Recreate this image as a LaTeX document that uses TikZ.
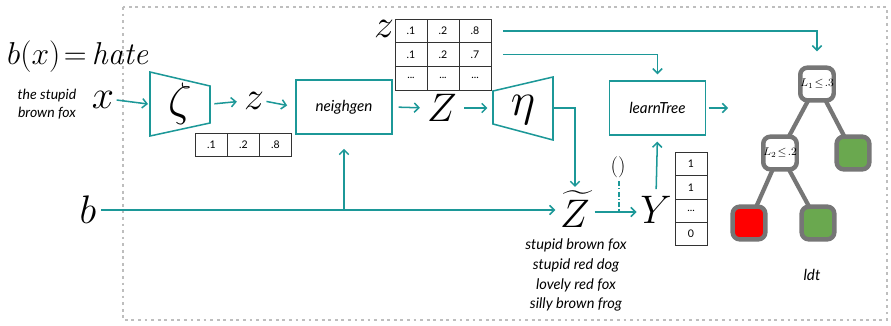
\documentclass[tikz,border=0pt]{standalone}
\usepackage{fix-cm}
\usepackage{amsmath}
\usepackage{fontspec}
\newfontfamily\lato{Lato}
\usetikzlibrary{arrows.meta,matrix}
\definecolor{tealc}{RGB}{28,152,152}
\definecolor{treegray}{RGB}{118,118,118}
\definecolor{leafgreen}{RGB}{106,168,79}
\definecolor{leafred}{RGB}{255,0,0}
\definecolor{dotgray}{RGB}{190,190,190}
\tikzset{
  conn/.style={draw=tealc, line width=1.3pt},
  arr/.style={conn, -{Straight Barb[length=4pt,width=8pt]}},
  procbox/.style={draw=tealc, line width=1.3pt, minimum width=2.88cm, minimum height=1.62cm, font=\lato\itshape\fontsize{13}{15}\selectfont},
  trap/.style={draw=tealc, line width=1.3pt},
  bigm/.style={inner sep=0pt, font=\fontsize{34}{38}\selectfont},
  greek/.style={inner sep=0pt, font=\fontsize{40}{44}\selectfont},
  lab/.style={inner sep=0pt, font=\lato\itshape\fontsize{12}{15}\selectfont},
  cell/.style={draw=black!80, line width=0.6pt, minimum width=0.96cm, minimum height=0.7cm, inner sep=0pt, font=\lato\fontsize{9}{10}\selectfont},
  tnode/.style={draw=treegray, line width=3.8pt, rounded corners=6pt, minimum size=0.98cm, inner sep=0pt, font=\fontsize{9.5}{10}\selectfont},
  tedge/.style={draw=treegray, line width=3.6pt}
}
\begin{document}
\begin{tikzpicture}[x=0.03cm,y=-0.03cm]
\useasboundingbox (0,0) rectangle (891,325);
% dotted frame
\draw[dotgray, line width=2.4pt, dash pattern=on 2.4pt off 3.2pt] (123,7) rectangle (887,320);

% left texts
\node[inner sep=0pt, anchor=west, font=\fontsize{27}{32}\selectfont] (bx) at (7,57) {$b(x)\!=$\,\textit{hate}};
\node[lab, align=center] (txt) at (47,104) {the stupid\\brown fox};
\node[bigm] (x) at (103,100) {$x$};
\node[bigm] (b) at (88,210) {$b$};

% zeta encoder
\draw[trap] (150,72) -- (210,86) -- (210,123) -- (150,136) -- cycle;
\coordinate (zetaL) at (148,104);
\coordinate (zetaR) at (212,104);
\node[greek] (zeta) at (180,104) {$\zeta$};
\node[bigm] (z) at (254,101) {$z$};
\matrix (zs) at (243.5,145) [matrix of nodes, nodes={cell}, column sep=-0.6pt] {
 .1 & .2 & .8 \\
};

% neighgen
\node[procbox] (ng) at (344,107) {neighgen};
\node[bigm] (Z) at (442,108) {$Z$};

% big z table
\matrix (zt) at (443,54.5) [matrix of nodes, nodes={cell, minimum height=0.71cm}, column sep=-0.6pt, row sep=-0.6pt] {
 .1 & .2 & .8 \\
 .1 & .2 & .7 \\
 ... & ... & ... \\
};
\node[bigm] (zlab) at (384,29) {$z$};

% eta decoder
\draw[trap] (493,91) -- (553,77) -- (553,140) -- (493,124) -- cycle;
\coordinate (etaL) at (491,108);
\coordinate (etaR) at (553,108);
\node[greek] (eta) at (523,110) {$\eta$};

% Z tilde, Y
\node[bigm] (Zt) at (575,209) {$\widetilde{Z}$};
\node[bigm] (Y) at (656,210) {$Y$};
\node[inner sep=0pt, font=\fontsize{18}{20}\selectfont] (par) at (618,167) {$()$};
\coordinate (dd) at (619,212);
\node[lab, align=center, font=\lato\itshape\fontsize{12.5}{17}\selectfont] (sent) at (576,275) {stupid brown fox\\stupid red dog\\lovely red fox\\silly brown frog};
\matrix (yt) at (691,199) [matrix of nodes, nodes={cell, minimum width=0.96cm, minimum height=0.7cm}, row sep=-0.6pt] {
 1 \\ 1 \\ ... \\ 0 \\
};

% learnTree
\node[procbox] (lt) at (657.5,108) {learnTree};
\coordinate (ltout) at (728,108);

% tree
\coordinate (root) at (817,84);
\coordinate (n2) at (780,153);
\coordinate (g1) at (853,153);
\coordinate (r1) at (749,223);
\coordinate (g2) at (818,223);
\draw[tedge] (root) -- (n2) -- (r1);
\draw[tedge] (root) -- (g1);
\draw[tedge] (n2) -- (g2);
\node[tnode, fill=white] (rootn) at (root) {$L_1\!\leq\!.3$};
\node[tnode, fill=white] (n2n) at (n2) {$L_2\!\leq\!.2$};
\node[tnode, fill=leafgreen] (g1n) at (g1) {};
\node[tnode, fill=leafred] (r1n) at (r1) {};
\node[tnode, fill=leafgreen] (g2n) at (g2) {};
\node[lab, font=\lato\itshape\fontsize{13}{15}\selectfont] (ldt) at (812,275) {ldt};

% connectors
\draw[arr] (x.east) ++(2pt,0) -- (zetaL);
\draw[arr, shorten <=2pt, shorten >=6pt] (zetaR) -- (z.west);
\draw[arr, shorten <=2pt, shorten >=7pt] (z.east) -- (ng.west);
\draw[arr, shorten <=5pt, shorten >=6pt] (ng.east) -- (Z.west);
\draw[arr, shorten <=6pt, shorten >=3pt] (Z.east) -- (etaL);
\draw[arr, shorten >=3pt] (etaR) -| (Zt.north);
\coordinate (bs) at ([xshift=4pt]b.east);
\draw[arr, shorten >=4pt] (bs) -- (Zt.west |- bs);
\draw[arr, shorten >=12pt] (ng.south |- bs) -- (ng.south);
\draw[arr, shorten <=4pt, shorten >=3pt] (Zt.east |- dd) -- (Y.west |- dd);
\draw[conn, dash pattern=on 4pt off 2pt on 1pt off 2pt] ([yshift=-3pt]par.south -| dd) -- (dd);
\draw[arr, shorten <=6pt, shorten >=5pt] (Y.north) -- (lt.south);
\draw[arr, shorten <=2pt] (lt.east) -- (ltout);
\draw[arr, shorten <=10pt, shorten >=12pt] (zt-1-3.east) -| (rootn.north);
\draw[arr, shorten <=10pt, shorten >=5pt] (zt-2-3.east) -| (lt.north);
\end{tikzpicture}
\end{document}
